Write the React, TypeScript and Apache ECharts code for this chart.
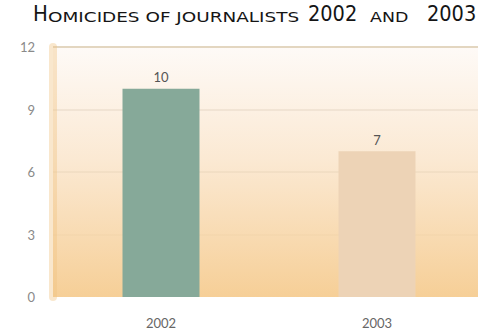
import React, { useEffect, useRef } from "react";
import * as echarts from "echarts";

const categories = ["2002", "2003"];
const values = [10, 7];
const barColors = ["#86a999", "#edd3b6"];
const titleParts = [
  { text: "H", big: true, x: 33, sx: 0.92 },
  { text: "OMICIDES OF JOURNALISTS", big: false, x: 48, sx: 1.27 },
  { text: "2002", big: true, x: 308, sx: 0.9 },
  { text: "AND", big: false, x: 370, sx: 1.2 },
  { text: "2003", big: true, x: 427, sx: 0.9 },
];

export default function App() {
  const ref = useRef<HTMLDivElement>(null);
  useEffect(() => {
    const chart = echarts.init(ref.current!, null, { renderer: "svg" });
    chart.setOption({
      animation: false,
      grid: {
        left: 53,
        top: 47,
        right: -7,
        bottom: 39,
        outerBoundsMode: "none",
        containLabel: false,
        show: true,
        borderWidth: 0,
        backgroundColor: new echarts.graphic.LinearGradient(0, 0, 0, 1, [
          { offset: 0, color: "#fefaf7" },
          { offset: 0.45, color: "#fbe9d3" },
          { offset: 1, color: "#f6cf97" },
        ]),
      },
      graphic: titleParts.map((p) => ({
        type: "text",
        x: p.x,
        y: 25,
        scaleX: p.sx,
        style: {
          text: p.text,
          fontSize: p.big ? 21.5 : 14.5,
          fontFamily: "DejaVu Sans",
          fill: "#151515",
          verticalAlign: "bottom",
        },
      })),
      xAxis: {
        type: "category",
        data: categories,
        axisLine: { show: false },
        axisTick: { show: false },
        axisLabel: { color: "#666", fontSize: 13, fontFamily: "Lato", margin: 19 },
      },
      yAxis: {
        type: "value",
        min: 0,
        max: 12,
        interval: 3,
        axisLine: { show: true, lineStyle: { color: "rgba(240,196,130,0.4)", width: 8 } },
        axisTick: { show: false },
        axisLabel: { color: "#8a8a8a", fontSize: 13, fontFamily: "Lato", margin: 18 },
        splitLine: {
          show: true,
          lineStyle: {
            color: ["rgba(0,0,0,0)", "rgba(235,205,160,0.2)", "rgba(225,205,175,0.3)", "rgba(215,200,180,0.3)", "#e3d6c0"],
            width: 2,
          },
        },
      },
      series: [
        {
          type: "bar",
          barWidth: 77,
          data: values.map((v, i) => ({ value: v, itemStyle: { color: barColors[i] } })),
          label: {
            show: true,
            position: "top",
            distance: 5,
            color: "#555",
            fontSize: 13,
            fontFamily: "Lato",
          },
        },
      ],
    });
    return () => chart.dispose();
  }, []);
  return <div ref={ref} style={{ width: 478, height: 336, position: "absolute", left: 0, top: 0 }} />;
}
